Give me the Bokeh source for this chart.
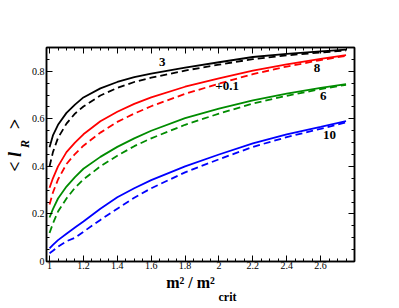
from bokeh.plotting import figure
from bokeh.models import Range1d, LinearAxis, FixedTicker, Label
from bokeh.embed import file_html
from bokeh.resources import INLINE

# ---- data ----
x_vals = [1.0, 1.02, 1.05, 1.1, 1.15, 1.2, 1.3, 1.4, 1.5, 1.6, 1.8, 2.0, 2.2, 2.4, 2.6, 2.75]

black_solid = [0.48, 0.53, 0.575, 0.625, 0.66, 0.69, 0.728, 0.755, 0.775, 0.79, 0.815, 0.838, 0.86, 0.873, 0.884, 0.891]
black_dash = [0.40, 0.46, 0.52, 0.58, 0.622, 0.652, 0.698, 0.73, 0.755, 0.773, 0.803, 0.828, 0.851, 0.867, 0.879, 0.887]
red_solid = [0.31, 0.35, 0.40, 0.46, 0.50, 0.535, 0.59, 0.63, 0.663, 0.69, 0.735, 0.77, 0.803, 0.829, 0.852, 0.868]
red_dash = [0.24, 0.29, 0.345, 0.41, 0.452, 0.487, 0.542, 0.587, 0.622, 0.653, 0.705, 0.748, 0.788, 0.82, 0.847, 0.865]
green_solid = [0.185, 0.22, 0.265, 0.315, 0.355, 0.39, 0.44, 0.482, 0.518, 0.55, 0.603, 0.643, 0.678, 0.706, 0.73, 0.746]
green_dash = [0.12, 0.16, 0.21, 0.265, 0.31, 0.345, 0.40, 0.445, 0.485, 0.518, 0.575, 0.622, 0.664, 0.697, 0.725, 0.743]
blue_solid = [0.055, 0.07, 0.09, 0.117, 0.143, 0.168, 0.222, 0.27, 0.308, 0.342, 0.40, 0.45, 0.497, 0.535, 0.566, 0.59]
blue_dash = [0.035, 0.045, 0.062, 0.085, 0.10, 0.125, 0.175, 0.222, 0.268, 0.308, 0.375, 0.43, 0.482, 0.523, 0.558, 0.585]

x_ticks = [1.0, 1.2, 1.4, 1.6, 1.8, 2.0, 2.2, 2.4, 2.6]
x_tick_labels = ["1", "1.2", "1.4", "1.6", "1.8", "2", "2.2", "2.4", "2.6"]
y_ticks = [0.0, 0.2, 0.4, 0.6, 0.8]
y_tick_labels = ["0", "0.2", "0.4", "0.6", "0.8"]

curve_labels = ["3", "8", "+0.1", "6", "10"]
curve_label_x = [1.665, 2.579, 2.048, 2.615, 2.652]
curve_label_y = [0.837, 0.812, 0.736, 0.694, 0.533]

x_title_main = "m\u00b2 / m\u00b2"
x_title_sub = "crit"
y_title_main = "<\u00a0l"
y_title_sub = "R"
y_title_end = ">"

SERIF = "Liberation Serif"
NB = "\u00a0"

p = figure(width=399, height=308, output_backend="svg", toolbar_location=None,
           x_range=Range1d(0.982, 2.80), y_range=Range1d(0.0, 0.9),
           min_border_left=46, min_border_right=45, min_border_top=47, min_border_bottom=47,
           x_axis_location=None, y_axis_location=None)
p.grid.visible = False
p.outline_line_color = "black"
p.outline_line_width = 1.5
p.background_fill_color = "white"
p.border_fill_color = "white"

def style_axis(ax, ticks, labels, show_labels):
    ax.ticker = FixedTicker(ticks=ticks, minor_ticks=[round(ticks[0] - 0.2 + 0.05 * i, 4) for i in range(0, 80)])
    ax.axis_line_color = "black"
    ax.axis_line_width = 1.5
    ax.major_tick_in = 6
    ax.major_tick_out = 0
    ax.minor_tick_in = 3
    ax.minor_tick_out = 0
    ax.major_tick_line_color = "black"
    ax.minor_tick_line_color = "black"
    ax.major_tick_line_width = 1
    ax.minor_tick_line_width = 1
    ax.major_label_overrides = {t: l for t, l in zip(ticks, labels)}
    ax.major_label_text_font = SERIF
    ax.major_label_text_font_size = "10px"
    ax.major_label_text_color = "black" if show_labels else None

def title_axis(text, size, style, standoff):
    ax = LinearAxis(ticker=FixedTicker(ticks=[]))
    ax.axis_line_color = None
    ax.major_tick_line_color = None
    ax.minor_tick_line_color = None
    ax.major_tick_in = 0
    ax.major_tick_out = 0
    ax.minor_tick_in = 0
    ax.minor_tick_out = 0
    ax.major_label_standoff = 0
    ax.major_label_text_color = None
    ax.axis_label = text
    ax.axis_label_text_font = SERIF
    ax.axis_label_text_font_size = size
    ax.axis_label_text_font_style = style
    ax.axis_label_text_color = "black"
    ax.axis_label_standoff = standoff
    return ax

# bottom axis with ticks; its label is the main part of the x title
xb = LinearAxis(); style_axis(xb, x_ticks, x_tick_labels, True)
xb.major_label_standoff = 0
xb.axis_label = x_title_main + NB * 5
xb.axis_label_text_font = SERIF
xb.axis_label_text_font_size = "16px"
xb.axis_label_text_font_style = "bold"
xb.axis_label_text_color = "black"
xb.axis_label_standoff = 2
p.add_layout(xb, "below")
p.add_layout(title_axis(NB * 18 + x_title_sub, "12px", "bold", -4), "below")

xt = LinearAxis(); style_axis(xt, x_ticks, x_tick_labels, False); p.add_layout(xt, "above")

# left axis with ticks; its label is the subscript R of the y title
yl = LinearAxis(); style_axis(yl, y_ticks, y_tick_labels, True)
yl.major_label_standoff = 2
yl.axis_label = NB * 7 + y_title_sub
yl.axis_label_text_font = SERIF
yl.axis_label_text_font_size = "12px"
yl.axis_label_text_font_style = "bold italic"
yl.axis_label_text_color = "black"
yl.axis_label_standoff = -3
p.add_layout(yl, "left")
p.add_layout(title_axis(NB * 4 + y_title_main + NB * 5 + y_title_end, "18px", "bold italic", -10), "left")

yr = LinearAxis(); style_axis(yr, y_ticks, y_tick_labels, False); p.add_layout(yr, "right")

series = [
    (black_solid, "black", "solid"), (black_dash, "black", "7 4"),
    (red_solid, "#ff0000", "solid"), (red_dash, "#ff0000", "7 4"),
    (green_solid, "#008c00", "solid"), (green_dash, "#008c00", "7 4"),
    (blue_solid, "#0000ff", "solid"), (blue_dash, "#0000ff", "7 4"),
]
for ys, col, dash in series:
    p.line(x_vals, ys, line_color=col, line_width=1.8, line_dash=dash)

for t, lx, ly in zip(curve_labels, curve_label_x, curve_label_y):
    p.add_layout(Label(x=lx, y=ly, text=t, text_font=SERIF, text_font_style="bold",
                       text_font_size="13px", text_align="center", text_baseline="middle",
                       text_color="black"))

open("out.html", "w").write(file_html(p, INLINE))
